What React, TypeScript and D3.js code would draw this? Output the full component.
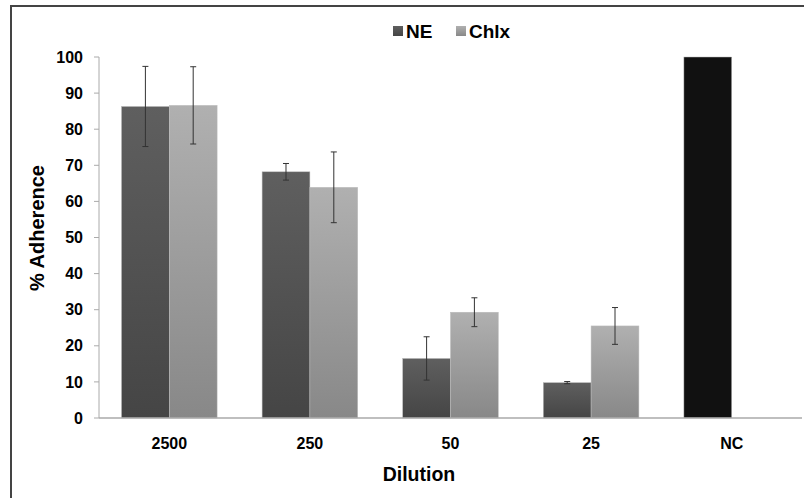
import React from "react";
import * as d3 from "d3";

const categories = ["2500", "250", "50", "25", "NC"];
const seriesNames = ["NE", "Chlx"];
const neValues: (number | null)[] = [86.3, 68.2, 16.5, 9.8, 100];
const neErrors: (number | null)[] = [11.1, 2.3, 6.0, 0.3, null];
const chlxValues: (number | null)[] = [86.6, 63.9, 29.3, 25.5, null];
const chlxErrors: (number | null)[] = [10.7, 9.8, 4.0, 5.1, null];
const yTicks = [0, 10, 20, 30, 40, 50, 60, 70, 80, 90, 100];

const W = 804;
const H = 498;
const plotLeft = 99;
const plotRight = 802;
const plotTop = 57;
const plotBottom = 418;
const FONT = "'Liberation Sans', Arial, sans-serif";

export default function App() {
  const x = d3.scaleBand<string>().domain(categories).range([plotLeft, plotRight]).paddingInner(0.32).paddingOuter(0.16);
  const xs = d3.scaleBand<string>().domain(seriesNames).range([0, x.bandwidth()]);
  const y = d3.scaleLinear().domain([0, 100]).range([plotBottom, plotTop]);

  const series = [
    { name: "NE", values: neValues, errors: neErrors, fill: "url(#gradNE)" },
    { name: "Chlx", values: chlxValues, errors: chlxErrors, fill: "url(#gradCh)" },
  ];

  return (
    <div style={{ position: "fixed", left: 0, top: 0 }}>
      <svg width={W} height={H} style={{ display: "block", background: "#fff" }}>
        <defs>
          <linearGradient id="gradNE" x1="0" y1="0" x2="0" y2="1">
            <stop offset="0" stopColor="#5f5f5f" />
            <stop offset="1" stopColor="#454545" />
          </linearGradient>
          <linearGradient id="gradCh" x1="0" y1="0" x2="0" y2="1">
            <stop offset="0" stopColor="#b0b0b0" />
            <stop offset="1" stopColor="#888888" />
          </linearGradient>
        </defs>
        {/* outer frame */}
        <rect x={11} y={6} width={820} height={520} fill="none" stroke="#444" strokeWidth={2} />

        {/* legend */}
        <rect x={393} y={26} width={10} height={10} fill="url(#gradNE)" />
        <text x={406} y={38} fontFamily={FONT} fontWeight="bold" fontSize={19} fill="#000">NE</text>
        <rect x={456} y={26} width={10} height={10} fill="url(#gradCh)" />
        <text x={469} y={38} fontFamily={FONT} fontWeight="bold" fontSize={19} fill="#000">Chlx</text>

        {/* y axis */}
        <line x1={plotLeft} x2={plotLeft} y1={y(100)} y2={y(0)} stroke="#aaa" strokeWidth={1} />
        {yTicks.map((t) => (
          <g key={t}>
            <line x1={plotLeft - 5} x2={plotLeft} y1={y(t)} y2={y(t)} stroke="#aaa" />
            <text x={plotLeft - 16} y={y(t)} dy="0.35em" textAnchor="end" fontFamily={FONT} fontWeight="bold" fontSize={16} fill="#000">{t}</text>
          </g>
        ))}

        {/* bars */}
        {series.map((s) =>
          categories.map((c, i) => {
            const v = s.values[i];
            if (v == null) return null;
            const bx = (x(c) as number) + (xs(s.name) as number);
            const fill = c === "NC" ? "#111" : s.fill;
            return (
              <rect key={s.name + c} x={bx} y={y(v)} width={xs.bandwidth()} height={y(0) - y(v)} fill={fill} stroke="#bbb" strokeWidth={0.5} />
            );
          })
        )}

        {/* x axis */}
        <line x1={plotLeft} x2={plotRight} y1={plotBottom} y2={plotBottom} stroke="#aaa" strokeWidth={1.5} />

        {/* error bars */}
        {series.map((s) =>
          categories.map((c, i) => {
            const v = s.values[i];
            const e = s.errors[i];
            if (v == null || e == null) return null;
            const cx = (x(c) as number) + (xs(s.name) as number) + xs.bandwidth() / 2;
            return (
              <g key={"e" + s.name + c} stroke="#333" strokeWidth={1}>
                <line x1={cx} x2={cx} y1={y(v + e)} y2={y(v - e)} />
                <line x1={cx - 3} x2={cx + 3} y1={y(v + e)} y2={y(v + e)} />
                <line x1={cx - 3} x2={cx + 3} y1={y(v - e)} y2={y(v - e)} />
              </g>
            );
          })
        )}

        {/* x tick labels */}
        {categories.map((c) => (
          <text key={c} x={(x(c) as number) + x.bandwidth() / 2} y={449} textAnchor="middle" fontFamily={FONT} fontWeight="bold" fontSize={16} fill="#000">{c}</text>
        ))}

        {/* axis titles */}
        <text x={419} y={481} textAnchor="middle" fontFamily={FONT} fontWeight="bold" fontSize={19.5} fill="#000">Dilution</text>
        <text transform={`translate(44,228) rotate(-90)`} textAnchor="middle" fontFamily={FONT} fontWeight="bold" fontSize={20} fill="#000">% Adherence</text>
      </svg>
    </div>
  );
}
